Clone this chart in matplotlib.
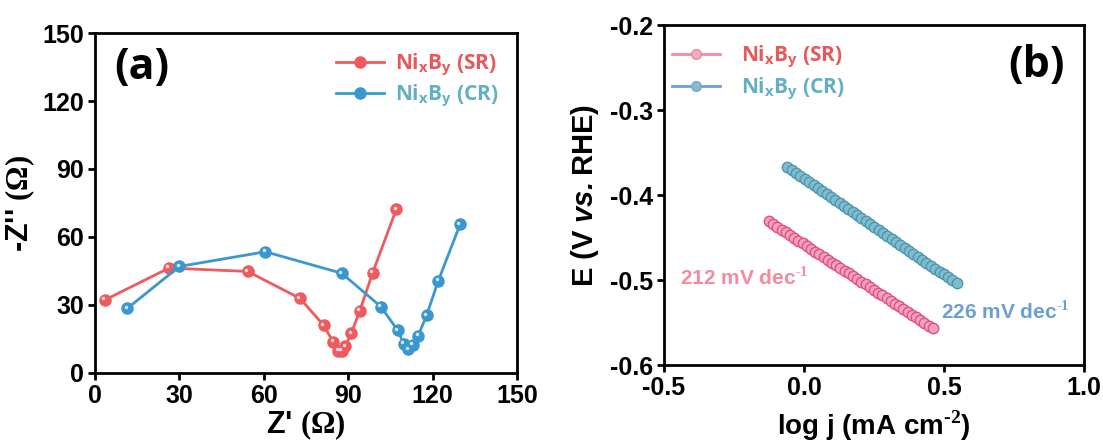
import matplotlib
matplotlib.use("Agg")
import matplotlib.pyplot as plt
from matplotlib.transforms import offset_copy

plt.rcParams["font.family"] = ["Liberation Sans", "DejaVu Sans"]
plt.rcParams["font.weight"] = "bold"
plt.rcParams["mathtext.fontset"] = "custom"
plt.rcParams["mathtext.rm"] = "Liberation Serif"
plt.rcParams["mathtext.bfit"] = "Liberation Sans:italic:bold"

# ---------------- (a) Nyquist data ----------------
sr_zre = [3.5, 26.3, 54.3, 72.9, 81.3, 84.7, 86.5, 87.7, 89.0, 91.1, 94.1, 98.7, 107.1]
sr_zim = [32.2, 46.3, 44.8, 32.9, 21.0, 13.6, 9.8, 9.8, 11.8, 17.5, 27.3, 44.2, 72.2]

cr_zre = [11.5, 30.0, 60.6, 87.7, 101.6, 107.6, 109.8, 111.4, 112.9, 114.9, 117.9, 122.0, 129.8]
cr_zim = [28.5, 47.0, 53.5, 44.0, 29.3, 18.8, 12.8, 10.5, 12.3, 16.5, 25.5, 40.6, 65.6]

# ---------------- (b) Tafel data ----------------
sr_logj = [-0.125, -0.110, -0.095, -0.080, -0.065, -0.050, -0.035, -0.020, -0.005, 0.010,
           0.025, 0.040, 0.055, 0.070, 0.085, 0.100, 0.115, 0.130, 0.145, 0.160,
           0.175, 0.190, 0.205, 0.220, 0.235, 0.250, 0.265, 0.280, 0.295, 0.310,
           0.325, 0.340, 0.355, 0.370, 0.385, 0.400, 0.415, 0.430, 0.445, 0.460]
sr_e = [-0.4310, -0.4342, -0.4375, -0.4407, -0.4439, -0.4471, -0.4504, -0.4536, -0.4568, -0.4600,
        -0.4633, -0.4665, -0.4697, -0.4729, -0.4762, -0.4794, -0.4826, -0.4858, -0.4891, -0.4923,
        -0.4955, -0.4987, -0.5020, -0.5052, -0.5084, -0.5116, -0.5149, -0.5181, -0.5213, -0.5245,
        -0.5278, -0.5310, -0.5342, -0.5374, -0.5407, -0.5439, -0.5471, -0.5503, -0.5536, -0.5568]

cr_logj = [-0.059, -0.044, -0.028, -0.013, 0.003, 0.019, 0.034, 0.050, 0.065, 0.081,
           0.096, 0.112, 0.127, 0.143, 0.158, 0.174, 0.189, 0.205, 0.220, 0.236,
           0.251, 0.267, 0.282, 0.298, 0.313, 0.329, 0.344, 0.360, 0.375, 0.391,
           0.406, 0.422, 0.437, 0.453, 0.468, 0.484, 0.499, 0.515, 0.530, 0.546]
cr_e = [-0.3675, -0.3710, -0.3745, -0.3780, -0.3815, -0.3850, -0.3885, -0.3920, -0.3955, -0.3990,
        -0.4025, -0.4060, -0.4095, -0.4130, -0.4165, -0.4200, -0.4235, -0.4270, -0.4305, -0.4340,
        -0.4375, -0.4410, -0.4445, -0.4480, -0.4515, -0.4550, -0.4585, -0.4620, -0.4655, -0.4690,
        -0.4725, -0.4760, -0.4795, -0.4830, -0.4865, -0.4900, -0.4935, -0.4970, -0.5005, -0.5040]

sr_label = r"Ni$_\mathregular{x}$B$_\mathregular{y}$ (SR)"
cr_label = r"Ni$_\mathregular{x}$B$_\mathregular{y}$ (CR)"

RED = "#ee5a5e"
BLUE = "#3a97cf"
RED_TXT = "#e8575a"
TEAL_TXT = "#62b0c4"


def style_axes(ax):
    for sp in ax.spines.values():
        sp.set_linewidth(2)
    ax.tick_params(direction="out", length=5, width=2, labelsize=18, pad=3,
                   top=False, right=False)
    for lab in ax.get_xticklabels() + ax.get_yticklabels():
        lab.set_fontweight("bold")


fig = plt.figure(figsize=(11.03, 4.46), dpi=100)

# --------------------------------------------------
# (a) Nyquist
# --------------------------------------------------
ax1 = fig.add_axes([0.0861, 0.1637, 0.3826, 0.7623])
for xs, ys, c, lab in [(sr_zre, sr_zim, RED, sr_label), (cr_zre, cr_zim, BLUE, cr_label)]:
    ax1.plot(xs, ys, "-o", color=c, lw=2, ms=8, mfc=c, mec=c, label=lab, zorder=3)
    hl = offset_copy(ax1.transData, fig=fig, x=-1.2, y=1.2, units="points")
    ax1.plot(xs, ys, "o", ls="none", ms=2.5, mfc="white", mec="none", alpha=0.8,
             transform=hl, zorder=4)

ax1.set_xlim(0, 150)
ax1.set_ylim(0, 150)
ax1.set_xticks([0, 30, 60, 90, 120, 150])
ax1.set_yticks([0, 30, 60, 90, 120, 150])
style_axes(ax1)
ax1.set_xlabel(r"Z' $\mathrm{(\Omega)}$", fontsize=22, fontweight="bold", labelpad=0)
ax1.set_ylabel(r"-Z'' $\mathrm{(\Omega)}$", fontsize=22, fontweight="bold", labelpad=4)
ax1.text(0.045, 0.90, "(a)", transform=ax1.transAxes, fontsize=31, fontweight="bold",
         family=["Open Sans", "DejaVu Sans"], va="center")

leg1 = ax1.legend(loc="upper right", bbox_to_anchor=(1.0, 1.0), frameon=False,
                  handlelength=2.3, handletextpad=0.5, labelspacing=0.25,
                  prop={"family": "Open Sans", "weight": "bold", "size": 15})
for t, c in zip(leg1.get_texts(), [RED_TXT, TEAL_TXT]):
    t.set_color(c)

# --------------------------------------------------
# (b) Tafel
# --------------------------------------------------
ax2 = fig.add_axes([0.602, 0.1816, 0.3808, 0.7623])
ax2.plot(sr_logj, sr_e, "o", ls="none", ms=7.5, mfc="#f4a3bd", mec="#e0507e", mew=1,
         zorder=3)
ax2.plot(cr_logj, cr_e, "o", ls="none", ms=7.5, mfc="#80bccd", mec="#4a97af", mew=1,
         zorder=3)
# legend handles
ax2.plot([], [], "-o", color="#f28ca2", lw=2, ms=7, mfc="#f6adc0", mec="#e88aa2",
         label=sr_label)
ax2.plot([], [], "-o", color="#6a9fd8", lw=2, ms=7, mfc="#8db8d2", mec="#78a8c8",
         label=cr_label)

ax2.set_xlim(-0.5, 1.0)
ax2.set_ylim(-0.6, -0.2)
ax2.set_xticks([-0.5, 0.0, 0.5, 1.0])
ax2.set_yticks([-0.6, -0.5, -0.4, -0.3, -0.2])
ax2.set_xticklabels(["-0.5", "0.0", "0.5", "1.0"])
ax2.set_yticklabels(["-0.6", "-0.5", "-0.4", "-0.3", "-0.2"])
style_axes(ax2)
ax2.set_xlabel(r"log j (mA cm$^{\text{-2}}$)", fontsize=20, fontweight="bold", labelpad=6)
ax2.set_ylabel(r"E (V $\mathbfit{vs.}$RHE)", fontsize=21, fontweight="bold", labelpad=6)
ax2.text(0.955, 0.882, "(b)", transform=ax2.transAxes, fontsize=31, fontweight="bold",
         family=["Open Sans", "DejaVu Sans"], va="center", ha="right")

ax2.text(-0.443, -0.497, r"212 mV dec$^{\text{-1}}$", color="#f5899d", fontsize=15,
         fontweight="bold", va="center")
ax2.text(0.49, -0.537, r"226 mV dec$^{\text{-1}}$", color="#6a9fd6", fontsize=15,
         fontweight="bold", va="center")

leg2 = ax2.legend(loc="upper left", bbox_to_anchor=(-0.025, 1.0), frameon=False,
                  handlelength=2.3, handletextpad=1.0, labelspacing=0.3,
                  prop={"family": "Open Sans", "weight": "bold", "size": 15})
for t, c in zip(leg2.get_texts(), [RED_TXT, TEAL_TXT]):
    t.set_color(c)

fig.savefig("out.png", dpi=100)
plt.close(fig)
